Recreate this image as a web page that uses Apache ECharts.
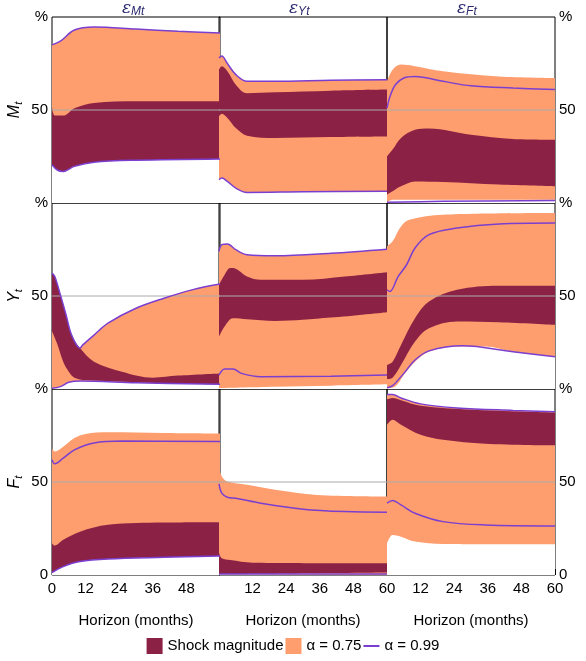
<!DOCTYPE html>
<html>
<head>
<meta charset="utf-8">
<script src="https://cdn.jsdelivr.net/npm/echarts@6/dist/echarts.min.js"></script>
<style>html,body{margin:0;padding:0;background:#fff}#c{width:586px;height:661px}</style>
</head>
<body>
<div id="c"></div>
<script>
// shocks (columns) and variables (rows)
const shockNames = ['M', 'Y', 'F'];
const varNames = ['M', 'Y', 'F'];
const xTicks = [0, 12, 24, 36, 48, 60];

// each band: [horizon, value] pairs
// row M
const M_M = {
    oHi: [[0,85],[3,87],[8,93],[15,94.6],[30,93.5],[45,92.3],[60,91.4]],
    oLo: [[0,20.6],[2,17.6],[4,17],[8,19.7],[15,21.9],[30,23],[60,23.7]],
    dHi: [[0,52],[1,47],[4,47],[8,51],[15,53.8],[30,54.7],[60,54.7]],
    dLo: [[0,20.6],[2,17.6],[4,17],[8,19.7],[15,21.9],[30,23],[60,23.7]],
    pHi: [[0,85],[3,87],[8,93],[15,94.6],[30,93.5],[45,92.3],[60,91.4]],
    pLo: [[0,20.6],[2,17.6],[4,17],[8,19.7],[15,21.9],[30,23],[60,23.7]]
};
const M_Y = {
    oHi: [[0,78],[1,79],[3,75],[6,69],[10,65.4],[20,65.4],[40,66],[60,66.3]],
    oLo: [[0,12.5],[1,13.4],[3,11.6],[6,8],[10,5.7],[30,6],[60,6.3]],
    dHi: [[0,71.7],[1,73.5],[3,70.8],[6,63.6],[10,59],[20,59.5],[40,60.4],[60,61]],
    dLo: [[0,46.6],[1,48],[3,45.7],[6,40.3],[10,36.2],[20,35],[40,35.5],[60,35.8]],
    pHi: [[0,78],[1,79],[3,75],[6,69],[10,65.4],[20,65.4],[40,66],[60,66.3]],
    pLo: [[0,12.5],[1,13.4],[3,11.6],[6,8],[10,5.7],[30,6],[60,6.3]]
};
const M_F = {
    oHi: [[0,65.4],[2,71.7],[5,74.4],[10,73.5],[20,70.8],[40,68],[60,67.2]],
    oLo: [[0,0.4],[2,1.8],[5,1.8],[60,1.8]],
    dHi: [[0,25],[2,28.7],[5,35],[10,39.4],[15,40.1],[30,36.7],[45,34.4],[60,34]],
    dLo: [[0,4.5],[2,6.3],[5,9],[10,11.6],[20,11.3],[40,9.9],[60,9]],
    pHi: [[0,51],[1,57],[3,63.6],[6,67.2],[10,68],[20,65.4],[30,63],[45,61.8],[60,61]],
    pLo: [[0,0.4],[20,0.9],[60,1.4]]
};
// row Y
const Y_M = {
    oHi: [[0,62.3],[1,60.5],[3,50.6],[5,40],[7,29],[10,22],[11,23.7],[15,29],[20,35.4],[30,43.4],[40,48.8],[50,53.3],[60,56.4]],
    oLo: [[0,0.4],[3,1.3],[6,3.6],[10,4.3],[30,3.4],[60,2.5]],
    dHi: [[0,62.3],[1,60.5],[3,50.6],[5,40],[7,29],[10,22],[15,14.7],[25,9.3],[36,6.1],[45,7.2],[60,8.4]],
    dLo: [[0,31],[2,23.7],[4,14.7],[6,9.3],[8,6.1],[12,4.8],[30,3.6],[60,2.2]],
    pHi: [[0,62.3],[1,60.5],[3,50.6],[5,40],[7,29],[10,22],[11,23.7],[15,29],[20,35.4],[30,43.4],[40,48.8],[50,53.3],[60,56.4]],
    pLo: [[0,0.4],[3,1.3],[6,3.6],[10,4.3],[30,3.4],[60,2.5]]
};
const Y_Y = {
    oHi: [[0,74],[1,77.6],[3,78],[6,74.9],[10,72.2],[20,71.6],[40,73],[60,75.2]],
    oLo: [[0,0.5],[20,1.2],[40,1.8],[60,2.5]],
    dHi: [[0,56],[2,61.4],[4,65],[6,64.6],[10,60.5],[15,58.7],[30,58.7],[45,60.5],[60,62.8]],
    dLo: [[0,28.2],[2,33.6],[5,38],[10,37.5],[20,36.6],[40,38.4],[60,41.3]],
    pHi: [[0,74],[1,77.6],[3,78],[6,74.9],[10,72.2],[20,71.6],[40,73],[60,75.2]],
    pLo: [[0,7.5],[2,10.8],[5,10.8],[8,8.4],[15,6.6],[40,6.9],[60,7.5]]
};
const Y_F = {
    oHi: [[0,76.7],[2,79.4],[5,87.4],[8,91],[20,93.7],[60,94.6]],
    oLo: [[0,0.4],[3,1.3],[6,7.5],[10,14.7],[15,20],[25,22.8],[35,22.8],[45,20],[60,17.4]],
    dHi: [[0,12.9],[2,14.7],[5,23.7],[10,38],[15,47],[25,53.3],[40,55.5],[60,55.5]],
    dLo: [[0,5.4],[2,6.1],[5,12.9],[10,25.5],[15,32.7],[25,36.3],[40,35.9],[60,34.5]],
    pHi: [[0,53.3],[1,52.4],[4,60.5],[7,66.8],[10,75.8],[15,83],[25,86.5],[40,88.7],[60,89.2]],
    pLo: [[0,0.7],[2,1.8],[6,8.4],[10,15.6],[15,20.5],[27,23.2],[45,20],[60,17.4]]
};
// row F
const F_M = {
    oHi: [[0,68.2],[1,66.4],[4,69],[8,73.6],[12,75.8],[20,76.7],[40,76.3],[60,76]],
    oLo: [[0,1.3],[4,4.5],[10,7.2],[20,8.6],[40,9.5],[60,10.2]],
    dHi: [[0,17],[1,15.8],[4,18.9],[10,23.3],[20,27],[40,28.2],[60,28.4]],
    dLo: [[0,1.3],[4,4.5],[10,7.2],[20,8.6],[40,9.5],[60,10.2]],
    pHi: [[0,62],[1,59.8],[4,62.8],[8,67.3],[15,71],[25,72],[60,71.8]],
    pLo: [[0,1.3],[4,4.5],[10,7.2],[20,8.6],[40,9.5],[60,10.2]]
};
const F_Y = {
    oHi: [[0,58],[1,53],[3,50.3],[10,48.5],[20,45.8],[35,43],[60,42.2]],
    oLo: [[0,0.4],[60,0.8]],
    dHi: [[0,12],[1,9],[4,8],[12,6.6],[60,6.3]],
    dLo: [[0,0.4],[60,1.3]],
    pHi: [[0,49],[1,44],[3,41.8],[6,41.3],[15,38.6],[30,35.4],[45,34.1],[60,33.8]],
    pLo: [[0,0.5],[60,0.5]]
};
const F_F = {
    oHi: [[0,97],[2,97],[5,95.2],[12,92],[25,89.8],[45,88.5],[60,87.8]],
    oLo: [[0,17],[2,21.5],[5,20.6],[10,18],[20,16.7],[60,16.5]],
    dHi: [[0,94.5],[2,95.2],[5,94],[12,91],[30,88.9],[60,87.4]],
    dLo: [[0,80.8],[2,83.5],[5,80.8],[12,75.4],[20,72.7],[35,70.6],[60,69.7]],
    pHi: [[0,97],[2,97],[5,95.2],[12,92],[25,89.8],[45,88.5],[60,87.8]],
    pLo: [[0,38.6],[2,40],[5,37.7],[10,33.2],[20,28.7],[35,26.9],[60,26.4]]
};
const panels = [[M_M, M_Y, M_F], [Y_M, Y_Y, Y_F], [F_M, F_Y, F_F]];

const DARK = '#8b2246', ORANGE = '#fe9e6e', PURPLE = '#7b3fd0';
const colLeft = [52, 219, 387], colW = 168;
const rowTop = [17, 203, 389], rowH = 186;

const grids = [], xAxes = [], yAxes = [], series = [];

function fill(idx, data, color, name) {
    series.push({
        type: 'line', name: name, xAxisIndex: idx, yAxisIndex: idx, data: data,
        smooth: 0.35, symbol: 'none', lineStyle: { width: 0 },
        areaStyle: { color: color, opacity: 1, origin: 'start' }, silent: true
    });
}

for (let r = 0; r < 3; r++) {
    for (let c = 0; c < 3; c++) {
        const idx = r * 3 + c, p = panels[r][c], bottom = r === 2;
        grids.push({ left: colLeft[c], top: rowTop[r], width: colW - (c === 1 ? 0 : 0), height: rowH,
            show: true, borderColor: '#000', borderWidth: 1, backgroundColor: 'transparent' });
        xAxes.push({
            type: 'value', gridIndex: idx, min: 0, max: 60, interval: 4,
            axisLine: { show: false },
            axisTick: { show: bottom, inside: true, length: 6, lineStyle: { color: '#000' } },
            axisLabel: {
                show: bottom, color: '#000', fontSize: 15, fontFamily: 'Liberation Sans', margin: 6,
                formatter: v => {
                    if (v % 12) return '';
                    if (c === 0 && v === 60) return '';
                    if (c > 0 && v === 0) return '';
                    return String(v);
                }
            },
            splitLine: { show: false },
            name: bottom ? 'Horizon (months)' : '', nameLocation: 'middle', nameGap: 38,
            nameTextStyle: { color: '#000', fontSize: 15, fontFamily: 'Liberation Sans' }
        });
        yAxes.push({
            type: 'value', gridIndex: idx, min: 0, max: 100, interval: 50,
            position: c === 2 ? 'right' : 'left',
            axisLine: { show: false }, axisTick: { show: false },
            axisLabel: {
                show: c !== 1, color: '#000', fontSize: 15, fontFamily: 'Liberation Sans', margin: 4,
                verticalAlign: 'middle',
                formatter: v => v === 100 ? '%' : v === 50 ? '50' : (bottom ? '0' : '')
            },
            splitLine: { show: false },
            name: c === 0 ? '{i|' + varNames[r] + '}{s|t}' : '', nameLocation: 'middle', nameGap: 28, nameRotate: 90,
            nameTextStyle: { rich: {
                i: { fontSize: 16, fontStyle: 'italic', fontFamily: 'Liberation Sans', color: '#000' },
                s: { fontSize: 11, fontStyle: 'italic', fontFamily: 'Liberation Sans', color: '#000', padding: [8, 0, 0, 0] }
            } }
        });
        // gray reference line at 50 under the bands
        series.push({ type: 'line', xAxisIndex: idx, yAxisIndex: idx, data: [[0, 50], [60, 50]],
            symbol: 'none', lineStyle: { color: '#aaa', width: 1 }, silent: true });
        fill(idx, p.oHi, ORANGE);
        fill(idx, p.oLo, '#fff');
        fill(idx, p.dHi, DARK);
        fill(idx, p.dLo, ORANGE);
        fill(idx, p.oLo, '#fff');
        ['pHi', 'pLo'].forEach(k => series.push({
            type: 'line', xAxisIndex: idx, yAxisIndex: idx, data: p[k], smooth: 0.35,
            symbol: 'none', lineStyle: { color: PURPLE, width: 1.5 }, silent: true
        }));
    }
}

const titles = shockNames.map((s, c) => ({
    type: 'text', left: colLeft[c] + colW / 2 - 14, top: 0,
    style: { text: '{e|ε}{s|' + s + 't}', fill: '#2b2a6e',
        rich: { e: { fontSize: 17, fontStyle: 'italic', fontFamily: 'DejaVu Serif', fill: '#2b2a6e' },
                s: { fontSize: 12, fontStyle: 'italic', fontFamily: 'Liberation Sans', fill: '#2b2a6e', padding: [6, 0, 0, 0] } } }
}));

// legend drawn with dummy series names
series.push({ type: 'bar', name: 'Shock magnitude', xAxisIndex: 0, yAxisIndex: 0, data: [], itemStyle: { color: DARK } });
series.push({ type: 'bar', name: 'α = 0.75', xAxisIndex: 0, yAxisIndex: 0, data: [], itemStyle: { color: ORANGE } });
series.push({ type: 'line', name: 'α = 0.99', xAxisIndex: 0, yAxisIndex: 0, data: [], symbol: 'none', lineStyle: { color: PURPLE, width: 3 }, itemStyle: { color: PURPLE } });

const chart = echarts.init(document.getElementById('c'));
chart.setOption({
    animation: false,
    grid: grids, xAxis: xAxes, yAxis: yAxes, series: series,
    graphic: titles,
    legend: {
        bottom: 2, left: 'center', itemGap: 2, itemWidth: 16, itemHeight: 16,
        data: [{ name: 'Shock magnitude', icon: 'rect' }, { name: 'α = 0.75', icon: 'rect' },
               { name: 'α = 0.99', icon: 'path://M0,7 L16,7 L16,9 L0,9 Z' }],
        textStyle: { color: '#000', fontSize: 15, fontFamily: 'Liberation Sans' }
    }
});
</script>
</body>
</html>
